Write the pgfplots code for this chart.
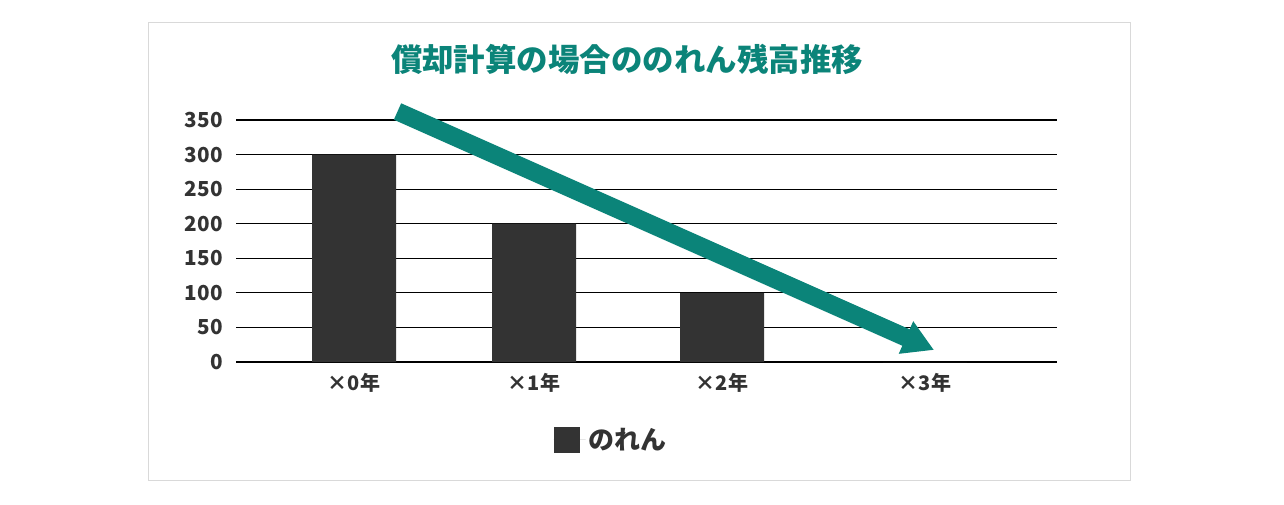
\documentclass[border=0pt]{standalone}
\usepackage{pgfplots}
\pgfplotsset{compat=1.18}
\usepackage{fontspec}
\setmainfont{Noto Sans CJK JP}
\usetikzlibrary{arrows.meta}
\definecolor{barcol}{HTML}{333333}
\definecolor{teal}{RGB}{11,132,121}
\definecolor{txt}{HTML}{333333}
\begin{document}
\begin{tikzpicture}
% page 1284x504 px, 1px = 0.75pt
\path[fill=white] (0pt,0pt) rectangle (963pt,-378pt);
\draw[color=black!15, line width=0.75pt] (111pt,-16.5pt) rectangle (847.5pt,-360pt);
\node[text=teal, font=\fontsize{23.6}{27}\selectfont\bfseries] at (470.25pt,-44.5pt) {償却計算の場合ののれん残高推移};

\begin{axis}[
  at={(177pt,-271.5pt)}, anchor=south west,
  scale only axis,
  width=615.75pt, height=181.5pt,
  xmin=0, xmax=821,
  ymin=0, ymax=350,
  ytick={0,50,...,350},
  xtick={118,298,486,689},
  xticklabels={×0年,×1年,×2年,×3年},
  ymajorgrids,
  grid style={black, line width=0.8pt},
  axis line style={draw=none},
  major tick length=0pt,
  /pgf/number format/assume math mode=true,
  yticklabel style={anchor=east, inner sep=0pt, xshift=-9.75pt, text=txt,
    font=\fontsize{15.5}{18}\selectfont\bfseries},
  xticklabel style={anchor=base, inner sep=0pt, yshift=-21pt, text=txt,
    font=\fontsize{15}{17}\selectfont\bfseries},
  clip=false,
  legend style={at={(0.457,-0.322)}, anchor=center, draw=none, fill=none,
    font=\fontsize{19.5}{22}\selectfont\bfseries, text=txt},
  legend image code/.code={\fill[barcol] (0pt,-10pt) rectangle (20pt,10pt);
    \path (0pt,0pt) -- (24pt,0pt);},
]
\addplot[ybar, fill=barcol, draw=none, bar width=84]
  coordinates {(118,300) (298,200) (486,100) (689,0)};
\addlegendentry{のれん}

\draw[teal, line width=13.5pt, -{Triangle[length=23pt, width=25pt]}]
  (axis cs:161.5,362.3) -- (axis cs:698,17.4);
\end{axis}
\end{tikzpicture}
\end{document}
